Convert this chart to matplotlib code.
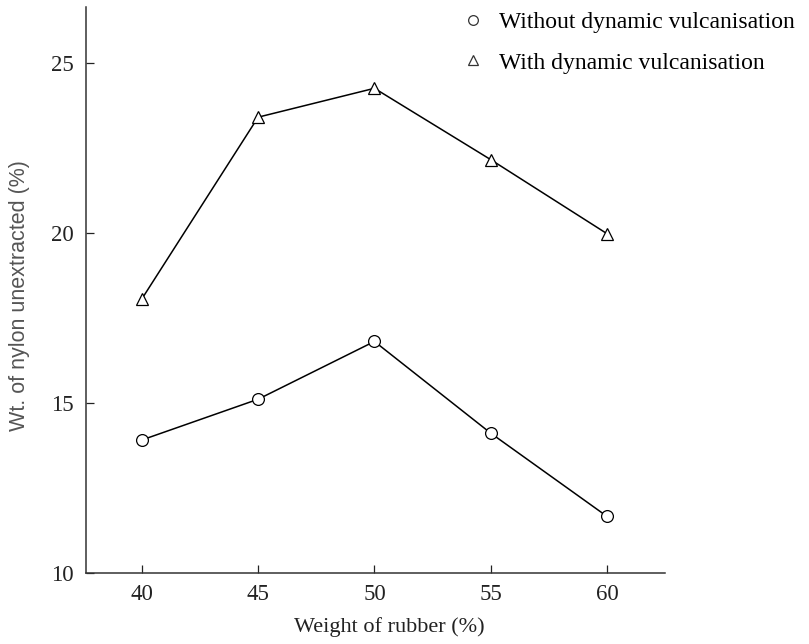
import matplotlib.pyplot as plt
from matplotlib.lines import Line2D

plt.rcParams['font.family'] = ['Liberation Serif', 'DejaVu Serif']

# Weight of rubber (%) and nylon left unextracted (%)
rubber = [40, 45, 50, 55, 60]
without_dv = [13.9, 15.1, 16.8, 14.1, 11.65]
with_dv = [18.05, 23.4, 24.25, 22.15, 19.97]

xticks = [40, 45, 50, 55, 60]
yticks = [10, 15, 20, 25]

fig = plt.figure(figsize=(8.09, 6.44), dpi=100)
ax = fig.add_axes([0.106, 0.111, 0.716, 0.878])

ax.plot(rubber, without_dv, color='black', lw=1.1, marker='o', ms=8.5,
        mfc='white', mec='black', mew=0.9)
ax.plot(rubber, with_dv, color='black', lw=1.1, marker='^', ms=9,
        mfc='white', mec='black', mew=0.9)

ax.set_xlim(37.59, 62.49)
ax.set_ylim(10, 26.64)
ax.set_xticks(xticks)
ax.set_yticks(yticks)
ax.tick_params(direction='in', length=6, width=0.9, labelsize=16.5,
               colors='#222222')
ax.tick_params(axis='x', pad=8)
ax.tick_params(axis='y', pad=9)

for side in ('top', 'right'):
    ax.spines[side].set_visible(False)
for side in ('left', 'bottom'):
    ax.spines[side].set_linewidth(1.1)
    ax.spines[side].set_color('#333333')

ax.set_xlabel('Weight of rubber (%)', fontsize=16, color='#222222')
ax.xaxis.set_label_coords(0.5235, -0.078)
ax.set_ylabel('Wt. of nylon unextracted (%)', fontsize=15.5, color='#555555',
              family=['Liberation Sans', 'DejaVu Sans'])
ax.yaxis.set_label_coords(-0.097, 0.49)

handles = [
    Line2D([], [], ls='none', marker='o', ms=7, mfc='white', mec='#333333', mew=0.9),
    Line2D([], [], ls='none', marker='^', ms=7, mfc='white', mec='#333333', mew=0.9),
]
labels = ['Without dynamic vulcanisation', 'With dynamic vulcanisation']
fig.legend(handles, labels, loc='upper left', bbox_to_anchor=(0.558, 1.0),
           frameon=False, fontsize=17, handlelength=0.8, handletextpad=0.7,
           labelspacing=0.8, borderaxespad=0.1)

fig.savefig('out.png', dpi=100)
